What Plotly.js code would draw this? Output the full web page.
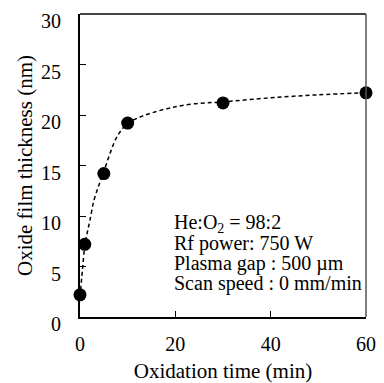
<!DOCTYPE html>
<html><head><meta charset="utf-8">
<script src="https://cdn.plot.ly/plotly-3.0.1.min.js"></script>
<style>body{margin:0;padding:0;background:#fff}#c{width:384px;height:383px}</style>
</head><body><div id="c"></div>
<script>
const timeMin = [0, 1, 5, 10, 30, 60];
const thickness = [2.2, 7.2, 14.2, 19.2, 21.2, 22.2];
const fitTime = [0, 0.5, 1, 1.5, 2.1, 2.9, 4, 5, 6.3, 7.7, 9, 10, 12.6, 15, 18.9, 23.8, 30, 40, 50, 60];
const fitThick = [2.0, 4.6, 7.0, 8.3, 9.6, 11.5, 13.1, 14.4, 16.2, 17.8, 18.7, 19.2, 19.8, 20.2, 20.7, 21.1, 21.3, 21.7, 22.0, 22.2];
const xTicks = [0, 20, 40, 60];
const yTicks = [0, 5, 10, 15, 20, 25, 30];
const noteLines = ["He:O<sub>2</sub> = 98:2", "Rf power: 750 W", "Plasma gap : 500 µm", "Scan speed : 0 mm/min"];

const font = "Liberation Serif, Times New Roman, serif";
const data = [
  {x: fitTime, y: fitThick, mode: "lines", type: "scatter", line: {color: "#000", width: 1.5, dash: "4px,3px", shape: "spline"}, hoverinfo: "skip", cliponaxis: false},
  {x: timeMin, y: thickness, mode: "markers", type: "scatter", marker: {color: "#000", size: 13}, cliponaxis: false}
];
const layout = {
  width: 384, height: 383,
  margin: {l: 80, r: 18, t: 14, b: 66},
  paper_bgcolor: "#fff", plot_bgcolor: "#fff",
  showlegend: false,
  font: {family: font, color: "#000", size: 20},
  xaxis: {range: [0, 60], tickvals: xTicks, ticks: "inside", ticklen: 6, tickwidth: 1, tickcolor: "#000",
    showline: true, linecolor: "#000", linewidth: 2, showgrid: false, zeroline: false,
    tickfont: {family: font, size: 20}, ticklabelstandoff: 8,
    title: {text: "Oxidation time (min)", font: {family: font, size: 21}, standoff: 10}},
  yaxis: {range: [0, 30], tickvals: yTicks, ticks: "inside", ticklen: 6, tickwidth: 1, tickcolor: "#000",
    showline: true, linecolor: "#000", linewidth: 2, showgrid: false, zeroline: false,
    tickfont: {family: font, size: 20}, ticklabelstandoff: 13, ticklabelshift: 7,
    title: {text: "Oxide film thickness (nm)", font: {family: font, size: 21}, standoff: 3}},
  shapes: [
    {type: "line", xref: "paper", yref: "paper", x0: 0, x1: 1, y0: 1, y1: 1, layer: "above", line: {color: "#444", width: 2}},
    {type: "line", xref: "paper", yref: "paper", x0: 1, x1: 1, y0: 0, y1: 1, layer: "above", line: {color: "#555", width: 1.5}}
  ],
  annotations: noteLines.map((t, i) => ({
    text: t, xref: "paper", yref: "paper", x: 0.322, y: 0.309 - i * 0.0658, xanchor: "left", yanchor: "middle",
    showarrow: false, font: {family: font, size: 20, color: "#000"}
  }))
};
Plotly.newPlot("c", data, layout, {staticPlot: true, displayModeBar: false});
</script></body></html>
